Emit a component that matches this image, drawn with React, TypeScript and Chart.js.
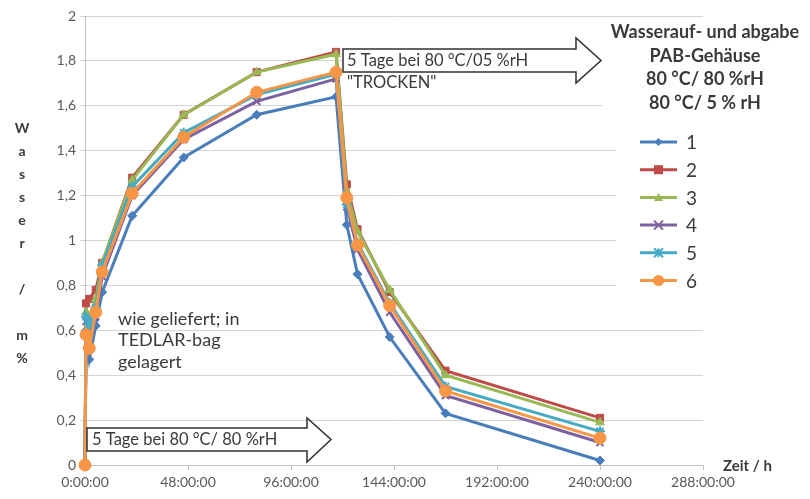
import { useEffect, useRef } from 'react';
import { Chart, registerables } from 'chart.js';
Chart.register(...registerables);

const hours = [0, 0.5, 2, 5, 8, 22, 46, 80, 117, 122, 127, 142, 168, 240];
const series1 = [0, 0.6, 0.47, 0.62, 0.77, 1.11, 1.37, 1.56, 1.64, 1.07, 0.85, 0.57, 0.23, 0.02];
const series2 = [0, 0.72, 0.74, 0.78, 0.9, 1.28, 1.56, 1.75, 1.84, 1.25, 1.05, 0.77, 0.42, 0.21];
const series3 = [0, 0.68, 0.66, 0.74, 0.9, 1.27, 1.56, 1.75, 1.83, 1.22, 1.04, 0.78, 0.4, 0.19];
const series4 = [0, 0.64, 0.58, 0.66, 0.84, 1.2, 1.45, 1.62, 1.72, 1.15, 0.96, 0.68, 0.31, 0.1];
const series5 = [0, 0.66, 0.62, 0.7, 0.89, 1.24, 1.48, 1.65, 1.74, 1.16, 0.99, 0.72, 0.35, 0.15];
const series6 = [0, 0.58, 0.52, 0.68, 0.86, 1.21, 1.46, 1.66, 1.75, 1.19, 0.98, 0.71, 0.33, 0.12];
const seriesNames = ['1', '2', '3', '4', '5', '6'];
const seriesColors = ['#4a7ebb', '#be4b48', '#98b954', '#7d60a0', '#46aac5', '#f79646'];
const seriesMarkers = ['rectRot', 'rect', 'triangle', 'crossRot', 'star', 'circle'];
const seriesRadius = [4.5, 5, 5, 5, 5, 6];
const allSeries = [series1, series2, series3, series4, series5, series6];

const xMax = 288;
const xStep = 48;
const yMax = 2;
const yStep = 0.2;

const titleLines = ['Wasserauf- und abgabe', 'PAB-Gehäuse', '80 °C/ 80 %rH', '80 °C/ 5 % rH'];
const yTitleLetters = ['W', 'a', 's', 's', 'e', 'r', '', '/', '', 'm', '%'];
const xTitle = 'Zeit / h';
const arrow1Text = '5 Tage bei 80 °C/ 80 %rH';
const arrow2Text = '5 Tage bei 80 °C/05 %rH';
const trockenText = '"TROCKEN"';
const noteLines = ['wie geliefert; in', 'TEDLAR-bag', 'gelagert'];

const FONT = 'Lato, "Open Sans", sans-serif';
const TEXT = '#3a3a3a';

function drawMarker(ctx: CanvasRenderingContext2D, style: string, x: number, y: number, r: number, color: string) {
  ctx.save();
  ctx.fillStyle = color;
  ctx.strokeStyle = color;
  ctx.lineWidth = 2;
  ctx.beginPath();
  if (style === 'circle') {
    ctx.arc(x, y, r, 0, Math.PI * 2);
    ctx.fill();
  } else if (style === 'rect') {
    ctx.fillRect(x - r, y - r, 2 * r, 2 * r);
  } else if (style === 'rectRot') {
    ctx.moveTo(x, y - r);
    ctx.lineTo(x + r, y);
    ctx.lineTo(x, y + r);
    ctx.lineTo(x - r, y);
    ctx.closePath();
    ctx.fill();
  } else if (style === 'triangle') {
    ctx.moveTo(x, y - r);
    ctx.lineTo(x + r, y + r * 0.8);
    ctx.lineTo(x - r, y + r * 0.8);
    ctx.closePath();
    ctx.fill();
  } else if (style === 'crossRot') {
    ctx.moveTo(x - r, y - r);
    ctx.lineTo(x + r, y + r);
    ctx.moveTo(x + r, y - r);
    ctx.lineTo(x - r, y + r);
    ctx.stroke();
  } else if (style === 'star') {
    ctx.moveTo(x - r, y - r);
    ctx.lineTo(x + r, y + r);
    ctx.moveTo(x + r, y - r);
    ctx.lineTo(x - r, y + r);
    ctx.moveTo(x, y - r);
    ctx.lineTo(x, y + r);
    ctx.stroke();
  }
  ctx.restore();
}

function drawArrow(ctx: CanvasRenderingContext2D, x0: number, x1: number, headX: number, bodyTop: number, bodyBottom: number, headTop: number, headBottom: number) {
  const mid = (bodyTop + bodyBottom) / 2;
  ctx.save();
  ctx.beginPath();
  ctx.moveTo(x0, bodyTop);
  ctx.lineTo(headX, bodyTop);
  ctx.lineTo(headX, headTop);
  ctx.lineTo(x1, mid);
  ctx.lineTo(headX, headBottom);
  ctx.lineTo(headX, bodyBottom);
  ctx.lineTo(x0, bodyBottom);
  ctx.closePath();
  ctx.fillStyle = '#ffffff';
  ctx.fill();
  ctx.strokeStyle = '#303030';
  ctx.lineWidth = 1.5;
  ctx.stroke();
  ctx.restore();
}

const decorPlugin = {
  id: 'decor',
  beforeDraw(chart: any) {
    const ctx = chart.ctx;
    ctx.save();
    ctx.fillStyle = '#ffffff';
    ctx.fillRect(0, 0, chart.width, chart.height);
    ctx.restore();
  },
  afterDraw(chart: any) {
    const ctx: CanvasRenderingContext2D = chart.ctx;
    ctx.save();
    // white areas behind title / legend
    ctx.fillStyle = '#ffffff';
    ctx.fillRect(602, 20, 208, 98);
    ctx.fillRect(616, 118, 194, 180);

    // title
    ctx.fillStyle = TEXT;
    ctx.font = `bold 18px ${FONT}`;
    ctx.textAlign = 'center';
    ctx.textBaseline = 'middle';
    titleLines.forEach((t, i) => ctx.fillText(t, 705, 32 + i * 23.7));

    // legend
    seriesNames.forEach((name, i) => {
      const y = 142 + i * 27.7;
      ctx.strokeStyle = seriesColors[i];
      ctx.lineWidth = 3;
      ctx.beginPath();
      ctx.moveTo(640, y);
      ctx.lineTo(677, y);
      ctx.stroke();
      drawMarker(ctx, seriesMarkers[i], 658.5, y, seriesRadius[i] - 0.5, seriesColors[i]);
      ctx.fillStyle = TEXT;
      ctx.font = `19px ${FONT}`;
      ctx.textAlign = 'left';
      ctx.textBaseline = 'middle';
      ctx.fillText(name, 686, y + 1);
    });

    // y title
    ctx.fillStyle = TEXT;
    ctx.font = `bold 14px ${FONT}`;
    ctx.textAlign = 'center';
    ctx.textBaseline = 'middle';
    yTitleLetters.forEach((l, i) => {
      if (l) ctx.fillText(l, 22, 128 + i * 23);
    });

    // x title
    ctx.font = `bold 15px ${FONT}`;
    ctx.textAlign = 'left';
    ctx.fillText(xTitle, 723, 466);

    // arrows
    drawArrow(ctx, 87, 331, 307, 428, 451, 418, 462);
    ctx.fillStyle = TEXT;
    ctx.font = `16.5px ${FONT}`;
    ctx.textAlign = 'left';
    ctx.textBaseline = 'middle';
    ctx.fillText(arrow1Text, 92, 440);

    drawArrow(ctx, 343, 601, 576, 49, 72, 38, 83);
    ctx.fillStyle = TEXT;
    ctx.font = `16.5px ${FONT}`;
    ctx.fillText(arrow2Text, 347, 61);
    ctx.fillText(trockenText, 347, 83);

    // note
    ctx.font = `18px ${FONT}`;
    noteLines.forEach((t, i) => ctx.fillText(t, 118, 319 + i * 21.5));
    ctx.restore();
  },
};

export default function App() {
  const ref = useRef<HTMLCanvasElement>(null);
  useEffect(() => {
    document.body.style.margin = '0';
    const canvas = ref.current!;
    const datasets = allSeries.map((s, i) => ({
      label: seriesNames[i],
      data: hours.map((h, j) => ({ x: h, y: s[j] })),
      borderColor: seriesColors[i],
      backgroundColor: seriesColors[i],
      pointBackgroundColor: seriesColors[i],
      pointBorderColor: seriesColors[i],
      pointStyle: seriesMarkers[i] as any,
      pointRadius: seriesRadius[i],
      pointBorderWidth: seriesMarkers[i] === 'crossRot' || seriesMarkers[i] === 'star' ? 2 : 1,
      borderWidth: 3,
      tension: 0,
      clip: false as any,
      order: 6 - i,
    }));
    const chart = new Chart(canvas, {
      type: 'line',
      data: { datasets },
      plugins: [decorPlugin],
      options: {
        animation: false,
        responsive: false,
        layout: { padding: { left: 0, right: 107, top: 16, bottom: 0 } },
        plugins: { legend: { display: false }, tooltip: { enabled: false } },
        scales: {
          x: {
            type: 'linear',
            min: 0,
            max: xMax,
            afterFit: (s: any) => { s.height = 34; },
            ticks: {
              stepSize: xStep,
              color: '#595959',
              font: { family: FONT, size: 14 },
              padding: 4,
              maxRotation: 0,
              callback: (v: any) => `${v}:00:00`,
            },
            grid: { drawOnChartArea: false, drawTicks: true, tickLength: 5, color: '#bfbfbf' },
            border: { display: true, color: '#bfbfbf', width: 1 },
          },
          y: {
            min: 0,
            max: yMax,
            afterFit: (s: any) => { s.width = 85; },
            ticks: {
              stepSize: yStep,
              color: '#595959',
              font: { family: FONT, size: 14 },
              padding: 4,
              callback: (v: any) => String(Math.round(v * 10) / 10).replace('.', ','),
            },
            grid: { color: '#d4d4d4', lineWidth: 1, tickLength: 5 },
            border: { display: true, color: '#bfbfbf', width: 1 },
          },
        },
      },
    });
    return () => chart.destroy();
  }, []);
  return (
    <div style={{ width: 810, height: 499 }}>
      <canvas ref={ref} width={810} height={499} style={{ display: 'block' }} />
    </div>
  );
}
